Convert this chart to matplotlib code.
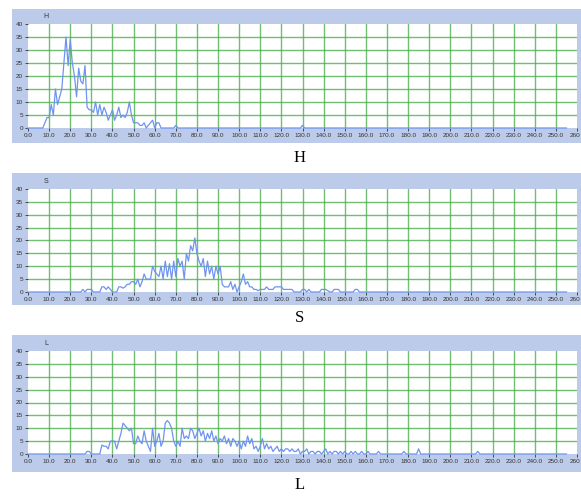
"""Histograms of the H, S and L channels, drawn as three stacked panels."""

import matplotlib.pyplot as plt
import matplotlib.transforms as mtransforms
import numpy as np
from matplotlib.patches import Rectangle

W, H_PX = 581, 498
DPI = 100

BAND = "#bccbea"
GRID = "#4caf50"
LINE = "#6f93f0"
TICK_TEXT = "#333333"
TICK_FONT = ["Liberation Sans Narrow", "Liberation Sans", "DejaVu Sans"]

# values, one per integer bin starting at *_start
h_start = 0
h_values = [0, 0, 0, 0, 0, 0, 0, 0, 2, 4, 4, 9, 5, 15, 9, 12, 15, 25, 35, 24,
            34, 25, 20, 12, 23, 18, 17, 24, 8, 7, 7, 6, 10, 5, 9, 5, 8, 6, 3, 5,
            7, 3, 5, 8, 4, 5, 4, 6, 10, 5, 2, 2, 2, 1, 1, 2, 0, 1, 2, 3,
            0, 2, 2, 0, 0, 0, 0, 0, 0, 0, 1, 0]
h_blips = {130: 1}

s_start = 24
s_values = [0, 0, 1, 0, 1, 1, 1, 0, 0, 0, 0, 2, 2, 1, 2, 1, 0, 0, 0, 2,
            2, 1.5, 2, 3, 3, 4, 4, 3, 5, 2, 4, 7, 5, 5, 5, 10, 8, 7, 6, 10,
            5, 12, 6, 11, 5, 12, 6, 13, 10, 12, 5, 15, 12, 18, 16, 21, 15, 12, 10, 13,
            6, 12, 7, 10, 5, 10, 7, 10, 3, 2, 2, 2, 4, 1, 3, 0, 2, 4, 7, 3,
            4, 2, 2, 1, 1, 0.5, 1, 1, 1, 2, 1, 1, 1, 2, 2, 2, 2, 1, 1, 1,
            1, 1, 0, 0, 0, 0, 1, 1, 0, 1, 0, 0, 0, 0, 0, 1, 1, 1, 0.5, 0,
            0, 1, 1, 1, 0, 0, 0, 0, 0, 0, 0, 1, 1, 0]

l_start = 26
l_values = [0, 0, 1, 1, 0, 0, 0, 0, 0, 3.5, 3, 3, 2, 5, 5, 5, 2, 5, 8, 12,
            11, 10, 9, 10, 4, 4, 7, 5, 4, 9, 5, 3, 1, 10, 3, 5, 8, 3, 5, 12,
            13, 12, 10, 5, 3, 5, 3, 10, 6, 7, 6, 10, 9, 6, 8, 10, 7, 9, 5, 8,
            6, 9, 5, 7, 4, 6, 5, 7, 4, 6, 3, 6, 5, 3, 5, 2, 5, 3, 7, 4,
            6, 2, 3, 1, 3, 6, 2, 4, 2, 3, 1, 2, 3, 1, 2, 1, 2, 2, 1, 2,
            1, 1, 2, 0, 1, 1, 2, 0, 1, 1, 0, 1, 1, 0, 1, 2, 0, 1, 0, 1,
            1, 0, 1, 0, 1, 0, 0, 1, 0, 1, 0, 0, 1, 0, 0, 1, 0, 0, 0, 0,
            1, 0]
l_blips = {178: 1, 185: 2, 213: 1}

x_ticks = list(range(0, 261, 10))
x_tick_labels = [f"{t}.0" for t in x_ticks[:-1]] + ["260"]
y_ticks = list(range(0, 41, 5))
channel_names = ["H", "S", "L"]

# panel geometry in pixels from the top: band top, band bottom, plot top, plot bottom
PANELS = [(9, 143, 24, 128), (173, 305, 189, 292), (335, 472, 351, 454)]
CAPTION_Y = [158, 318, 485]
BAND_X0, BAND_X1 = 12, 581
PLOT_X0, PLOT_X1 = 28, 577


def full_series(start, values, blips=None):
    x = np.arange(0, 256)
    y = np.zeros(256)
    y[start:start + len(values)] = values
    for k, v in (blips or {}).items():
        y[k] = v
    return x, y


def fx(px):
    return px / W


def fy(px):
    return 1 - px / H_PX


def draw_panel(fig, geom, name, caption_y, x, y):
    band_top, band_bot, plot_top, plot_bot = geom
    fig.add_artist(Rectangle((fx(BAND_X0), fy(band_bot)), fx(BAND_X1 - BAND_X0),
                             (band_bot - band_top) / H_PX, facecolor=BAND,
                             edgecolor="none", transform=fig.transFigure, zorder=0))
    ax = fig.add_axes([fx(PLOT_X0), fy(plot_bot), fx(PLOT_X1 - PLOT_X0),
                       (plot_bot - plot_top) / H_PX])
    ax.set_facecolor("white")
    ax.plot(x, y, color=LINE, linewidth=0.9, clip_on=False, zorder=3)
    ax.set_xlim(0, 260)
    ax.set_ylim(0, 40)
    for v in x_ticks[1:-1]:
        ax.axvline(v, color=GRID, linewidth=1.0, alpha=0.8, zorder=1)
    for v in y_ticks[1:-1]:
        ax.axhline(v, color=GRID, linewidth=1.0, alpha=0.8, zorder=1)
    for side in ax.spines.values():
        side.set_visible(False)
    ax.set_xticks(x_ticks)
    ax.set_xticklabels(x_tick_labels)
    ax.set_yticks(y_ticks)
    ax.tick_params(axis="both", labelsize=4.6, colors=TICK_TEXT, length=2.5,
                   width=0.6, pad=1)
    for lab in ax.get_xticklabels() + ax.get_yticklabels():
        lab.set_family(TICK_FONT)
    # keep the last x label inside the figure
    last = ax.get_xticklabels()[-1]
    last.set_transform(last.get_transform() + mtransforms.ScaledTranslation(
        -2 / DPI, 0, fig.dpi_scale_trans))
    fig.text(fx(46), fy(plot_top - 8), name, fontsize=5, color=TICK_TEXT,
             ha="center", va="center", family=TICK_FONT)
    fig.text(fx(300), fy(caption_y), name, fontsize=12, color="black",
             ha="center", va="center", family=["Liberation Serif", "DejaVu Serif"])


fig = plt.figure(figsize=(W / DPI, H_PX / DPI), dpi=DPI)
series = [full_series(h_start, h_values, h_blips),
          full_series(s_start, s_values),
          full_series(l_start, l_values, l_blips)]
for geom, name, cy, (x, y) in zip(PANELS, channel_names, CAPTION_Y, series):
    draw_panel(fig, geom, name, cy, x, y)

fig.savefig("out.png", dpi=DPI)
